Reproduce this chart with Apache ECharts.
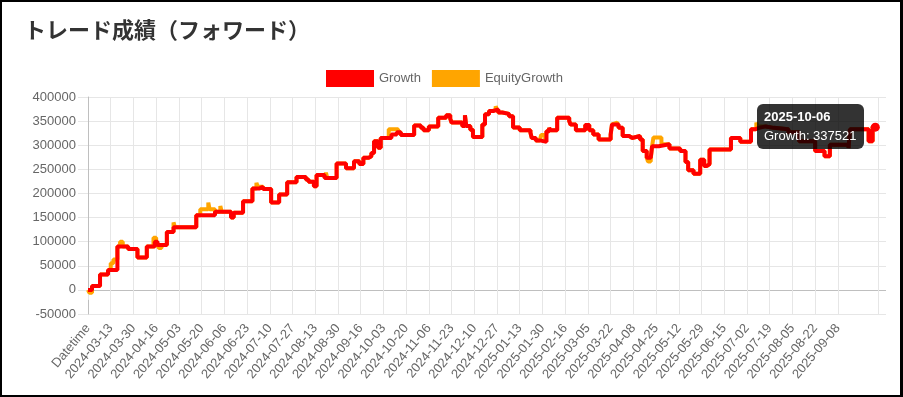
<!DOCTYPE html>
<html>
<head>
<meta charset="utf-8">
<style>
  html, body { margin: 0; padding: 0; background: #fff; }
  #main { position: absolute; left: 0; top: 0; width: 903px; height: 397px; }
  #frame { position: absolute; left: 0; top: 0; width: 903px; height: 397px; box-sizing: border-box;
           border: 2px solid #000; border-right-width: 3px; pointer-events: none; z-index: 10; }
</style>
</head>
<body>
<div id="main"></div>
<div id="frame"></div>
<script src="https://cdn.jsdelivr.net/npm/echarts@6/dist/echarts.min.js"></script>
<script>
// x軸: 先頭は "Datetime"、以降は日付（1日1カテゴリ）
var firstDate = Date.UTC(2024, 1, 26);
var dayCount = 597;
var categories = ['Datetime'];
for (var d = 0; d < dayCount; d++) {
  categories.push(new Date(firstDate + d * 86400000).toISOString().slice(0, 10));
}

// 値が変わった日のインデックスと値
var growthIdx = [0, 3, 9, 15, 22, 30, 37, 44, 50, 52, 59, 64, 81, 95, 107, 109, 116, 123, 128, 131,
  137, 143, 149, 156, 163, 165, 169, 171, 177, 186, 193, 199, 203, 206, 210, 212, 214, 217, 219, 227,
  231, 234, 244, 249, 251, 255, 262, 268, 271, 272, 280, 282, 283, 286, 288, 295, 297, 300, 303, 307,
  310, 315, 318, 323, 331, 332, 335, 338, 343, 345, 346, 351, 360, 361, 365, 372, 375, 378, 382, 391,
  392, 397, 400, 405, 407, 413, 415, 418, 421, 422, 427, 435, 443, 447, 449, 453, 458, 461, 463, 465,
  481, 488, 496, 499, 502, 507, 513, 524, 532, 544, 551, 555, 569, 570, 584, 587, 589];
var growthVal = [0, 8000, 32000, 41000, 90000, 85000, 67000, 90000, 100000, 93000, 120000, 130000, 155000, 162000, 150000, 160000, 184000, 210000, 214000, 209000,
  181000, 198000, 223000, 234000, 229000, 224000, 215000, 238000, 232000, 262000, 252000, 267000, 261000, 274000, 277000, 284000, 308000, 295000, 315000, 322000,
  327000, 321000, 341000, 336000, 331000, 339000, 357000, 362000, 355000, 347000, 340000, 362000, 340000, 332000, 317000, 343000, 364000, 371000, 374000, 368000,
  365000, 360000, 337000, 331000, 326000, 315000, 310000, 307000, 329000, 336000, 331000, 357000, 350000, 343000, 331000, 342000, 331000, 322000, 312000, 322000,
  343000, 336000, 319000, 315000, 319000, 312000, 288000, 274000, 271000, 298000, 302000, 293000, 288000, 265000, 248000, 241000, 270000, 257000, 261000, 291000,
  315000, 307000, 333000, 336000, 339000, 336000, 333000, 327000, 308000, 288000, 277000, 301000, 294000, 333000, 308000, 339000, 337521];

var equityIdx = [0, 1, 3, 9, 15, 17, 19, 22, 24, 26, 30, 37, 44, 49, 51, 52, 53, 55, 59, 64,
  65, 81, 84, 90, 91, 95, 99, 100, 107, 109, 116, 123, 126, 127, 131, 137, 143, 149, 156, 163,
  165, 169, 171, 177, 178, 179, 186, 193, 199, 203, 206, 210, 212, 214, 217, 219, 225, 232, 234, 244,
  249, 251, 255, 262, 268, 271, 272, 280, 282, 283, 286, 288, 295, 297, 300, 303, 305, 306, 307, 310,
  315, 318, 323, 331, 332, 335, 338, 339, 342, 343, 345, 346, 351, 360, 361, 365, 372, 375, 378, 382,
  391, 392, 393, 396, 397, 400, 405, 407, 413, 415, 418, 419, 421, 422, 423, 429, 435, 443, 447, 449,
  453, 458, 461, 463, 465, 481, 488, 496, 500, 501, 507, 513, 524, 532, 544, 551, 555, 569, 570, 584,
  587, 589];
var equityVal = [0, -6000, 8000, 32000, 41000, 55000, 63000, 90000, 100000, 90000, 85000, 67000, 90000, 108000, 100000, 93000, 87000, 93000, 120000, 140000,
  130000, 155000, 167000, 181000, 167000, 162000, 174000, 162000, 150000, 160000, 184000, 210000, 222000, 214000, 209000, 181000, 198000, 223000, 234000, 229000,
  224000, 215000, 238000, 232000, 243000, 232000, 262000, 252000, 267000, 261000, 274000, 277000, 284000, 308000, 295000, 315000, 333000, 327000, 321000, 341000,
  336000, 331000, 339000, 357000, 362000, 355000, 347000, 340000, 362000, 340000, 332000, 317000, 343000, 364000, 371000, 374000, 381000, 374000, 368000, 365000,
  360000, 337000, 331000, 326000, 315000, 310000, 307000, 321000, 307000, 329000, 336000, 331000, 357000, 350000, 343000, 331000, 342000, 331000, 322000, 312000,
  322000, 343000, 347000, 343000, 336000, 319000, 315000, 319000, 312000, 288000, 274000, 266000, 271000, 298000, 316000, 302000, 293000, 288000, 265000, 248000,
  241000, 270000, 257000, 261000, 291000, 315000, 307000, 333000, 347000, 339000, 336000, 333000, 327000, 308000, 288000, 277000, 301000, 294000, 333000, 308000,
  339000, 337521];

var yTicks = [-50000, 0, 50000, 100000, 150000, 200000, 250000, 300000, 350000, 400000];

function pairs(idx, val) {
  return idx.map(function (d, i) { return [d, val[i]]; });
}
var growthData = pairs(growthIdx, growthVal);
var equityData = pairs(equityIdx, equityVal);
var lastIdx = growthData.length - 1;
growthData[lastIdx] = { value: growthData[lastIdx], symbol: 'circle', symbolSize: 9 };

function labelShown(i) { return i % 17 === 0 && i <= 561; }
function lineShown(i) { return labelShown(i) || i === 591; }

var font = '"Liberation Sans", Arial, sans-serif';
var yGridColors = yTicks.map(function (v) { return v === 0 ? '#bfbfbf' : '#e6e6e6'; });

var chart = echarts.init(document.getElementById('main'));
chart.setOption({
  animation: false,
  title: {
    text: 'トレード成績（フォワード）', left: 24, top: 19, padding: 0,
    textStyle: { fontFamily: '"Noto Sans CJK JP"', fontWeight: 'bold', fontSize: 22, color: '#333' }
  },
  legend: {
    data: ['Growth', 'EquityGrowth'], top: 70, left: 326, padding: 0,
    itemWidth: 48, itemHeight: 17, itemGap: 11,
    icon: 'rect', itemStyle: { borderWidth: 0 },
    textStyle: { color: '#666', fontSize: 13, fontFamily: font }
  },
  tooltip: {
    trigger: 'item', triggerOn: 'none', alwaysShowContent: true, transitionDuration: 0,
    position: [757, 104], backgroundColor: 'rgba(0,0,0,0.8)', borderWidth: 0, padding: [6, 7],
    textStyle: { color: '#fff', fontSize: 13, fontFamily: font },
    extraCssText: 'box-shadow:none;border-radius:6px;line-height:14px;',
    formatter: function (p) {
      return '<div style="font-weight:bold;margin-bottom:5px">' + categories[p.value[0]] + '</div>' +
        '<div>Growth: ' + p.value[1] + '</div>';
    }
  },
  grid: { left: 88, right: 17, top: 97, bottom: 83 },
  xAxis: {
    type: 'category', data: categories, boundaryGap: false,
    axisLine: { show: false },
    axisTick: { show: true, length: 10, interval: lineShown, lineStyle: { color: '#e6e6e6' } },
    axisLabel: { interval: labelShown, rotate: 50, margin: 12, color: '#666', fontSize: 13, fontFamily: font },
    splitLine: { show: true, interval: lineShown, lineStyle: { color: '#e6e6e6' } }
  },
  yAxis: {
    type: 'value', min: yTicks[0], max: yTicks[yTicks.length - 1], interval: 50000,
    axisLine: { show: true, lineStyle: { color: '#bfbfbf' } },
    axisTick: { show: true, length: 10, lineStyle: { color: '#e6e6e6' } },
    axisLabel: { margin: 12, color: '#666', fontSize: 13, fontFamily: font, formatter: function (v) { return String(v); } },
    splitLine: { lineStyle: { color: yGridColors } }
  },
  series: [
    {
      name: 'Growth', type: 'line', step: 'end', data: growthData, z: 3,
      color: '#ff0000', symbol: 'none', showSymbol: true, showAllSymbol: true,
      lineStyle: { width: 4, color: '#ff0000' }, itemStyle: { color: '#ff0000' },
      emphasis: { disabled: true }
    },
    {
      name: 'EquityGrowth', type: 'line', step: 'end', data: equityData, z: 2,
      color: '#ffa500', symbol: 'none', showSymbol: false,
      lineStyle: { width: 4, color: '#ffa500' }, itemStyle: { color: '#ffa500' },
      emphasis: { disabled: true }
    }
  ]
});
chart.dispatchAction({ type: 'showTip', seriesIndex: 0, dataIndex: lastIdx });
</script>
</body>
</html>
